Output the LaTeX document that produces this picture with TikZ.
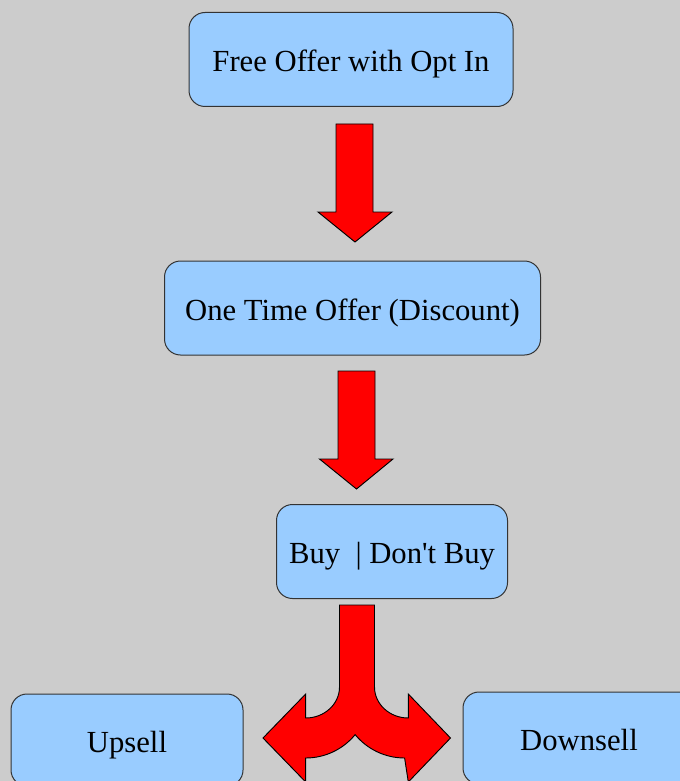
\documentclass[tikz,border=0pt]{standalone}
\usepackage{fontspec}
\setmainfont{Liberation Serif}
\newfontfamily\boxfont{Liberation Serif}
\definecolor{bgc}{HTML}{CCCCCC}
\definecolor{boxc}{HTML}{99CCFF}
\definecolor{edgec}{HTML}{333333}
\definecolor{arrc}{HTML}{FF0000}
\begin{document}
\begin{tikzpicture}[x=0.75pt,y=-0.75pt,
  boxnode/.style={draw=edgec,fill=boxc,line width=0.75pt,rounded corners=12pt,
    inner sep=0pt,text height=18pt,text depth=0pt,
    font=\boxfont\fontsize{23}{27}\selectfont},
  blockarrow/.style={draw=black,fill=arrc,line width=0.7pt,line join=miter}]
\useasboundingbox (0,0) rectangle (680,781);
\fill[bgc] (0,0) rectangle (680,781);
% boxes
\node[boxnode,minimum width=324*0.75pt,minimum height=94*0.75pt] (free) at (351,59.5) {Free Offer with Opt In};
\node[boxnode,minimum width=376*0.75pt,minimum height=94*0.75pt] (oto) at (352.5,308) {One Time Offer (Discount)};
\node[boxnode,minimum width=231*0.75pt,minimum height=94*0.75pt] (buy) at (392,551.5) {Buy \ | Don{\char"0027}t Buy};
\node[boxnode,minimum width=232*0.75pt,minimum height=92*0.75pt] (up) at (127,740) {Upsell};
\node[boxnode,minimum width=232*0.75pt,minimum height=92*0.75pt] (down) at (579,738) {Downsell};
% arrow 1
\draw[blockarrow] (336,124) -- (373,124) -- (373,212) -- (392,212) -- (355,242)
  -- (318,212) -- (336,212) -- cycle;
% arrow 2
\draw[blockarrow] (338,371) -- (375,371) -- (375,459) -- (393,459) -- (356.5,489)
  -- (319.5,459) -- (338,459) -- cycle;
% split arrow
\draw[blockarrow] (339.5,605) -- (339.5,687)
  arc[start angle=0,end angle=90,x radius=33.8,y radius=31]
  -- (305.7,694) -- (263,738) -- (305.7,782) -- (305.7,758)
  arc[start angle=90,end angle=39.4,radius=64]
  arc[start angle=140.6,end angle=90,radius=64]
  -- (408.3,782) -- (450.5,738) -- (408.3,694) -- (408.3,718)
  arc[start angle=90,end angle=180,x radius=33.8,y radius=31]
  -- (374.5,605) -- cycle;
\end{tikzpicture}
\end{document}
